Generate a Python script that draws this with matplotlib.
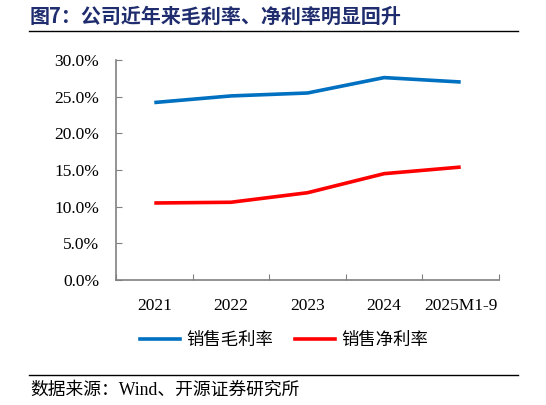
import matplotlib
matplotlib.use("Agg")
import matplotlib.pyplot as plt
from matplotlib.lines import Line2D
from matplotlib.ticker import FuncFormatter, MultipleLocator

categories = ["2021", "2022", "2023", "2024", "2025M1-9"]
gross_margin = [24.2, 25.1, 25.5, 27.6, 27.0]
net_margin = [10.5, 10.6, 11.9, 14.5, 15.4]
series_names = ["销售毛利率", "销售净利率"]
title = "图7：公司近年来毛利率、净利率明显回升"
source = "数据来源：Wind、开源证券研究所"

W, H = 546, 405
fig = plt.figure(figsize=(W / 100, H / 100), dpi=100)

cjk = ["Noto Sans CJK SC", "DejaVu Sans"]
serif = ["Liberation Serif", "DejaVu Serif"]
mixed = ["Liberation Serif", "Noto Sans CJK SC", "DejaVu Sans"]

ax = fig.add_axes([116 / W, 1 - 280 / H, (499 - 116) / W, 220 / H])
x = list(range(len(categories)))
ax.plot(x, gross_margin, color="#0070C0", lw=2.6, solid_capstyle="butt")
ax.plot(x, net_margin, color="#FF0000", lw=2.6, solid_capstyle="butt")
ax.set_xlim(-0.5, len(categories) - 0.5)
ax.set_ylim(0, 30)
ax.yaxis.set_major_locator(MultipleLocator(5))
ax.yaxis.set_major_formatter(FuncFormatter(lambda v, p: f"{v:.1f}%"))
ax.set_xticks([i + 0.5 for i in range(-1, len(categories))], minor=False)
ax.set_xticklabels([])
ax.set_xticks(x, minor=True)
ax.set_xticklabels(categories, minor=True)
ax.tick_params(axis="x", which="major", direction="in", length=4, color="#808080")
ax.tick_params(axis="x", which="minor", length=0, pad=13)
ax.tick_params(axis="y", direction="in", length=4, color="#808080", pad=12)
for lbl in ax.get_xticklabels(minor=True) + ax.get_yticklabels():
    lbl.set_fontfamily(serif)
    lbl.set_fontsize(12.5)
    lbl.set_color("#000000")
for s in ["top", "right"]:
    ax.spines[s].set_visible(False)
for s in ["left", "bottom"]:
    ax.spines[s].set_color("#808080")
    ax.spines[s].set_linewidth(1.2)

# Title
fig.text(30 / W, 1 - 16 / H, title, fontfamily=cjk, fontsize=14.4, fontweight="bold",
         color="#1F2D6E", va="center", ha="left")
fig.add_artist(Line2D([29 / W, 518 / W], [1 - 31 / H, 1 - 31 / H], color="black", lw=1.0))
fig.add_artist(Line2D([29 / W, 518 / W], [1 - 375 / H, 1 - 375 / H], color="black", lw=1.0))
fig.text(30 / W, 1 - 390 / H, source, fontfamily=mixed, fontsize=12.8, color="#000000",
         va="center", ha="left")

# Legend
handles = [Line2D([], [], color="#0070C0", lw=2.6), Line2D([], [], color="#FF0000", lw=2.6)]
leg = fig.legend(handles, series_names, loc="center", bbox_to_anchor=(284 / W, 1 - 340 / H),
                 ncol=2, frameon=False, prop={"family": cjk, "size": 12.5},
                 handlelength=2.3, columnspacing=1.3, handletextpad=0.35)

fig.savefig("out.png", dpi=100)
